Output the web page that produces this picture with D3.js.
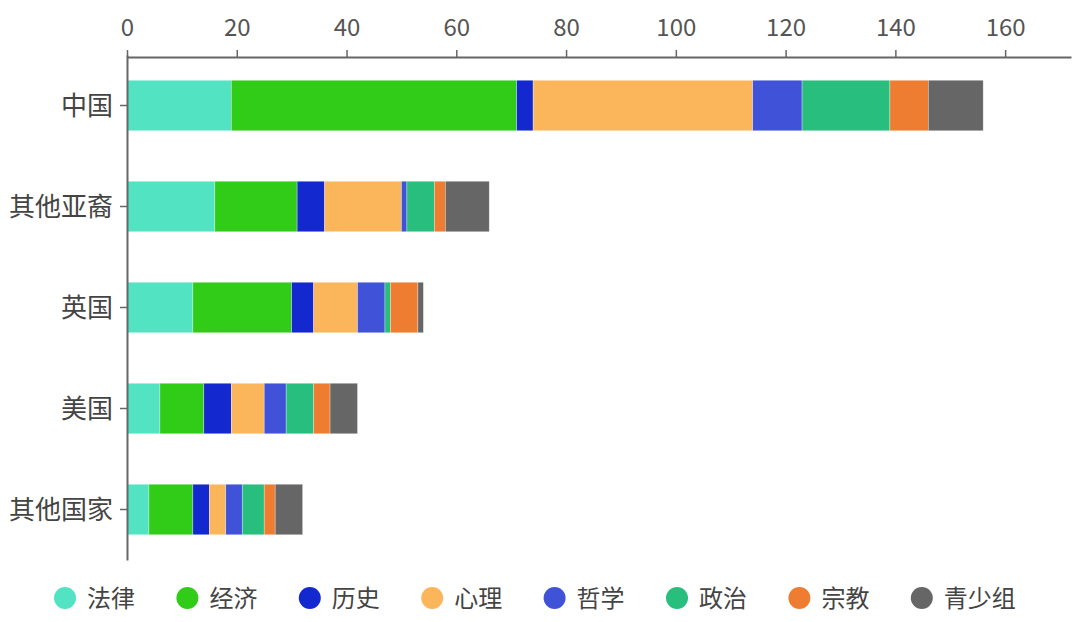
<!DOCTYPE html>
<html><head><meta charset="utf-8">
<script src="https://cdn.jsdelivr.net/npm/d3@7"></script>
<style>body{margin:0;background:#fff}</style>
</head><body>
<svg id="c" width="1080" height="622"></svg>
<script>
const categories = ["中国","其他亚裔","英国","美国","其他国家"];
const seriesNames = ["法律","经济","历史","心理","哲学","政治","宗教","青少组"];
const colors = ["#52e3c3","#30cc17","#1428d0","#fbb65c","#4052d8","#28be7e","#ee7d31","#666666"];
const law = [19,16,12,6,4];
const economy = [52,15,18,8,8];
const history = [3,5,4,5,3];
const psychology = [40,14,8,6,3];
const philosophy = [9,1,5,4,3];
const politics = [16,5,1,5,4];
const religion = [7,2,5,3,2];
const youth = [10,8,1,5,5];
const tickValues = [0,20,40,60,80,100,120,140,160];

const seriesVals = [law,economy,history,psychology,philosophy,politics,religion,youth];
const rows = categories.map((c,i)=>{const o={cat:c}; seriesNames.forEach((s,j)=>o[s]=seriesVals[j][i]); return o;});
const stack = d3.stack().keys(seriesNames)(rows);

const svg = d3.select("#c");
const font = "'Noto Sans CJK SC','Noto Sans',sans-serif";
const x = d3.scaleLinear().domain([0,172]).range([127,1071]);
const y = d3.scaleBand().domain(categories).range([55,560]).paddingInner(0.5).paddingOuter(0.25);

svg.selectAll("g.s").data(stack).join("g").attr("fill",(d,i)=>colors[i])
  .selectAll("rect").data(d=>d).join("rect")
  .attr("x",d=>x(d[0])).attr("width",d=>x(d[1])-x(d[0]))
  .attr("y",d=>y(d.data.cat)).attr("height",y.bandwidth())
  .attr("stroke","#fff").attr("stroke-opacity",0.5).attr("stroke-width",0.6);

const gx = svg.append("g").attr("transform","translate(0,57)")
  .call(d3.axisTop(x).tickValues(tickValues).tickSize(7).tickPadding(14).tickSizeOuter(0));
gx.select(".domain").attr("stroke","#666").attr("stroke-width",2);
gx.selectAll(".tick line").attr("stroke","#666").attr("stroke-width",1.5);
gx.selectAll("text").attr("fill","#555").style("font-family",font).style("font-size","24px");

const yc = d3.scaleBand().domain(categories).range([55,560]);
const gy = svg.append("g").attr("transform","translate(127,0)")
  .call(d3.axisLeft(yc).tickSize(7).tickPadding(7).tickSizeOuter(0));
gy.select(".domain").attr("stroke","#666").attr("stroke-width",2);
gy.selectAll(".tick line").attr("stroke","#666").attr("stroke-width",1.5);
gy.selectAll("text").attr("fill","#444").attr("dy","0.38em").style("font-family",font).style("font-size","26px");

const leg = svg.append("g").selectAll("g").data(seriesNames).join("g")
  .attr("transform",(d,i)=>`translate(${65+i*122.4},598)`);
leg.append("circle").attr("r",11).attr("fill",(d,i)=>colors[i]);
leg.append("text").attr("x",22).attr("dy","0.36em").text(d=>d)
  .attr("fill","#444").style("font-family",font).style("font-size","24px");
</script>
</body></html>
